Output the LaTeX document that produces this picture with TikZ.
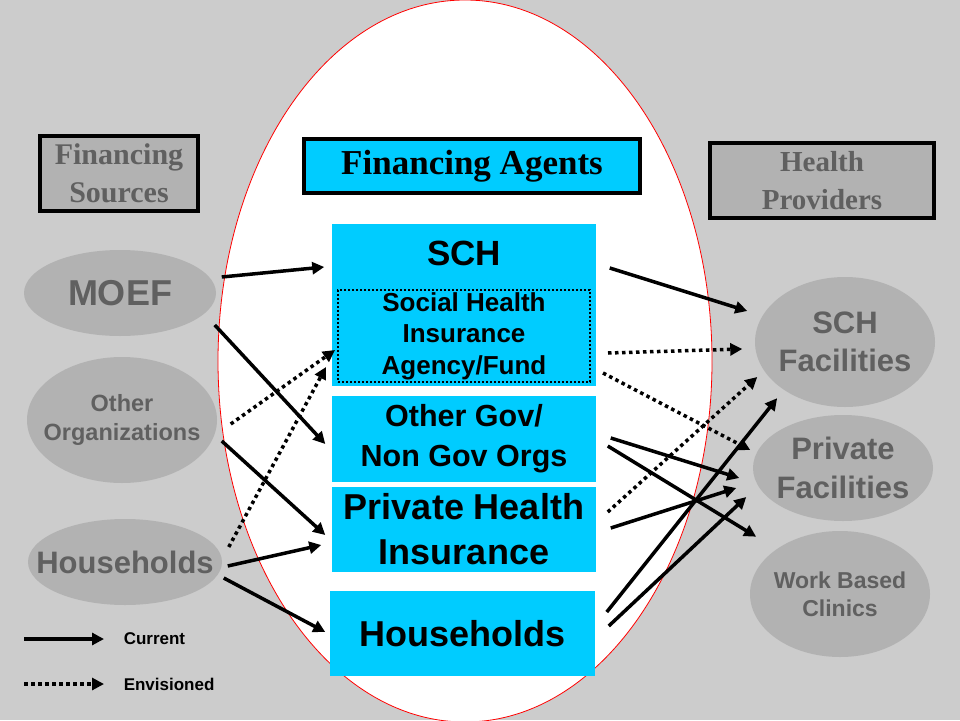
\documentclass[tikz,border=0pt]{standalone}
\usepackage{fontspec}
\setmainfont{Liberation Serif}
\setsansfont{Liberation Sans}
\usetikzlibrary{arrows.meta,shapes.geometric}

\definecolor{bggray}{HTML}{CCCCCC}
\definecolor{ovalgray}{HTML}{B2B2B2}
\definecolor{txtgray}{HTML}{606060}
\definecolor{agentblue}{HTML}{00CCFF}

\begin{document}
\begin{tikzpicture} [x=1pt,y=-1pt,line width=3.5pt,>={Triangle[length=12pt,width=12pt]}]
  \tikzstyle{header}=[rectangle,draw=black,line width=4pt,inner sep=0pt,align=center]
  \tikzstyle{agent}=[rectangle,fill=agentblue,inner sep=0pt,align=center,font=\sffamily\bfseries]
  \tikzstyle{oval}=[ellipse,fill=ovalgray,inner sep=0pt]
  \tikzstyle{ovaltext}=[text=txtgray,align=center,inner sep=0pt]
  \tikzstyle{current}=[->]
  \tikzstyle{envisioned}=[->,dash pattern=on 3.5pt off 3.5pt]
  \tikzstyle{legend}=[anchor=west,inner sep=0pt,font=\sffamily\bfseries\fontsize{17}{20}\selectfont]

  \fill[bggray] (0,0) rectangle (960,720);
  \useasboundingbox (0,0) rectangle (960,720);
  \draw[red,fill=white,line width=0.8pt] (465,361) ellipse [x radius=247, y radius=361];

  \node[header,fill=ovalgray,text=txtgray,minimum width=158pt,minimum height=75pt,
        font=\bfseries\fontsize{30}{38}\selectfont] (finsrc) at (119,173.5) {Financing\\Sources};
  \node[header,fill=agentblue,minimum width=336pt,minimum height=54pt,
        font=\bfseries\fontsize{35}{40}\selectfont] (finag) at (472,166) {Financing Agents};
  \node[header,fill=ovalgray,text=txtgray,minimum width=224pt,minimum height=75pt,
        font=\bfseries\fontsize{29}{38}\selectfont] (hprov) at (822,180.5) {Health\\Providers};

  \node[oval,minimum width=192pt,minimum height=86pt] (moef) at (120,293) {};
  \node[oval,minimum width=190pt,minimum height=126pt] (othorg) at (122,420) {};
  \node[oval,minimum width=194pt,minimum height=86pt] (hhsrc) at (125,562) {};
  \node[ovaltext,font=\sffamily\bfseries\fontsize{36}{40}\selectfont] (moef-t) at (moef) {MOEF};
  \node[ovaltext,font=\sffamily\bfseries\fontsize{23.5}{29}\selectfont] (othorg-t) at (othorg) {Other\\Organizations};
  \node[ovaltext,font=\sffamily\bfseries\fontsize{31}{36}\selectfont] (hhsrc-t) at (hhsrc) {Households};

  \node[oval,minimum width=180pt,minimum height=130pt] (schfac) at (845,342) {};
  \node[oval,minimum width=180pt,minimum height=106pt] (privfac) at (843,468) {};
  \node[oval,minimum width=180pt,minimum height=126pt] (workfac) at (840,594) {};
  \node[ovaltext,font=\sffamily\bfseries\fontsize{31}{38}\selectfont] (schfac-t) at (schfac) {SCH\\Facilities};
  \node[ovaltext,font=\sffamily\bfseries\fontsize{31}{39}\selectfont] (privfac-t) at (privfac) {Private\\Facilities};
  \node[ovaltext,font=\sffamily\bfseries\fontsize{23}{28}\selectfont] (workfac-t) at (workfac) {Work Based\\Clinics};

  \node[agent,minimum width=264pt,minimum height=162pt] (sch) at (464,305) {};
  \node[agent,font=\sffamily\bfseries\fontsize{35}{40}\selectfont] (sch-t) at (464,253) {SCH};
  \node[agent,draw=black,line width=2pt,dash pattern=on 2pt off 2pt,minimum width=252pt,minimum height=92pt,
        font=\sffamily\bfseries\fontsize{26}{31.5}\selectfont] (shi) at (464,336) {Social Health\\Insurance\\Agency/Fund};
  \node[agent,minimum width=264pt,minimum height=86pt,font=\sffamily\bfseries\fontsize{30.5}{40}\selectfont]
        (othgov) at (464,439) {Other Gov/\\Non Gov Orgs};
  \node[agent,minimum width=264pt,minimum height=85pt,font=\sffamily\bfseries\fontsize{36}{45}\selectfont]
        (phi) at (464,529.5) {Private Health\\Insurance};
  \node[agent,minimum width=265pt,minimum height=85pt,font=\sffamily\bfseries\fontsize{36}{40}\selectfont]
        (hhag) at (462.5,633.5) {Households};

  \foreach \s/\sx/\sy/\t/\tx/\ty in {moef.east/4/16/sch.west/-6/38,
      moef.east/-3/-32/othgov.west/-5/-5,
      othorg.east/3/-21/phi.west/-5/-5.5,
      hhsrc.east/4/-4/phi.west/-9/-15.5,
      hhsrc.east/0/-16/hhag.west/-3/1.5,
      sch.east/12/37/schfac.west/-6/31,
      othgov.east/13/1/privfac.west/-12/-10,
      othgov.east/10/-7/workfac.north west/-19/11.5,
      phi.east/13/1.5/privfac.west/-15/-20,
      hhag.east/10/21.5/schfac.south west/-3/-9,
      hhag.east/12/7.5/privfac.west/-5/-29}
    \draw[current] ([xshift=\sx pt,yshift=\sy pt]\s) -- ([xshift=\tx pt,yshift=\ty pt]\t);

  \foreach \s/\sx/\sy/\t/\tx/\ty in {othorg.east/12/-4/shi.west/-2/-14,
      hhsrc.east/5/15/shi.west/-11/-31,
      shi.east/17/-17/schfac.west/-11/-7,
      shi.east/12/-37/privfac.west/-1/18,
      phi.east/10/17.5/schfac.west/4/-35}
    \draw[envisioned] ([xshift=\sx pt,yshift=\sy pt]\s) -- ([xshift=\tx pt,yshift=\ty pt]\t);

  \node[legend] (lcur) at (122,639) {Current};
  \node[legend] (lenv) at (122,684) {Envisioned};
  \draw[current] ([xshift=-98pt]lcur.west) -- ([xshift=-18pt]lcur.west);
  \draw[envisioned] ([xshift=-98pt]lenv.west) -- ([xshift=-18pt]lenv.west);

\end{tikzpicture}
\end{document}
